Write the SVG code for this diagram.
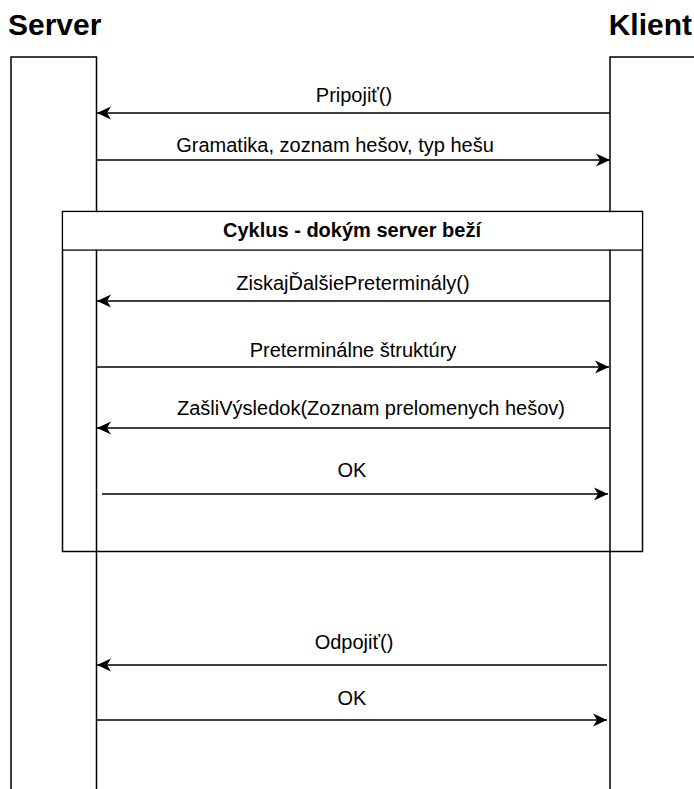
<svg xmlns="http://www.w3.org/2000/svg" width="694" height="789" viewBox="0 0 694 789">
  <style>
    .life { fill: none; stroke: #000; stroke-width: 1.5; }
    .msg { fill: none; stroke: #000; stroke-width: 1.5; marker-end: url(#arrow); }
    .lbl { font-family: "Liberation Sans", Arial, sans-serif; font-size: 20px; fill: #000; text-anchor: middle; }
    .title { font-family: "Liberation Sans", Arial, sans-serif; font-size: 30px; font-weight: bold; fill: #000; }
    .frame { fill: none; stroke: #000; stroke-width: 1.5; }
  </style>
  <defs>
    <marker id="arrow" markerUnits="userSpaceOnUse" markerWidth="16" markerHeight="14" refX="14" refY="7" orient="auto">
      <path d="M0,0.5 L14,7 L0,13.5 L4,7 Z" fill="#000"/>
    </marker>
  </defs>
  <rect width="694" height="789" fill="#fff"/>

  <!-- Server lifeline -->
  <g id="server">
    <text class="title" x="8" y="35">Server</text>
    <path class="life" d="M11,790 V57 H96.5 V790"/>
  </g>

  <!-- Client lifeline -->
  <g id="klient">
    <text class="title" x="692" y="35" text-anchor="end">Klient</text>
    <path class="life" d="M610,790 V57 H695"/>
  </g>

  <!-- Loop frame -->
  <g id="cyklus">
    <rect class="frame" x="62.5" y="211.5" width="580" height="340"/>
    <line class="frame" x1="62.5" y1="250" x2="642.5" y2="250"/>
    <rect x="63.3" y="212.3" width="578.4" height="37" fill="#fff"/>
    <text class="lbl" x="352" y="237" font-weight="bold">Cyklus - dokým server beží</text>
  </g>

  <!-- Messages -->
  <g id="connectors">
    <line class="msg" x1="610" y1="113" x2="97" y2="113"/>
    <line class="msg" x1="96.5" y1="160" x2="610" y2="160"/>
    <line class="msg" x1="610" y1="301" x2="97" y2="301"/>
    <line class="msg" x1="96.5" y1="367" x2="609" y2="367"/>
    <line class="msg" x1="610" y1="428" x2="97" y2="428"/>
    <line class="msg" x1="102" y1="494" x2="608" y2="494"/>
    <line class="msg" x1="607" y1="665" x2="97" y2="665"/>
    <line class="msg" x1="96.5" y1="720" x2="607" y2="720"/>
  </g>

  <g id="labels">
    <text class="lbl" x="354" y="102">Pripojiť()</text>
    <text class="lbl" x="335" y="152">Gramatika, zoznam hešov, typ hešu</text>
    <text class="lbl" x="353" y="290">ZiskajĎalšiePreterminály()</text>
    <text class="lbl" x="353" y="357">Preterminálne štruktúry</text>
    <text class="lbl" x="371" y="415">ZašliVýsledok(Zoznam prelomenych hešov)</text>
    <text class="lbl" x="352" y="477">OK</text>
    <text class="lbl" x="354" y="649">Odpojiť()</text>
    <text class="lbl" x="352" y="705">OK</text>
  </g>
</svg>
